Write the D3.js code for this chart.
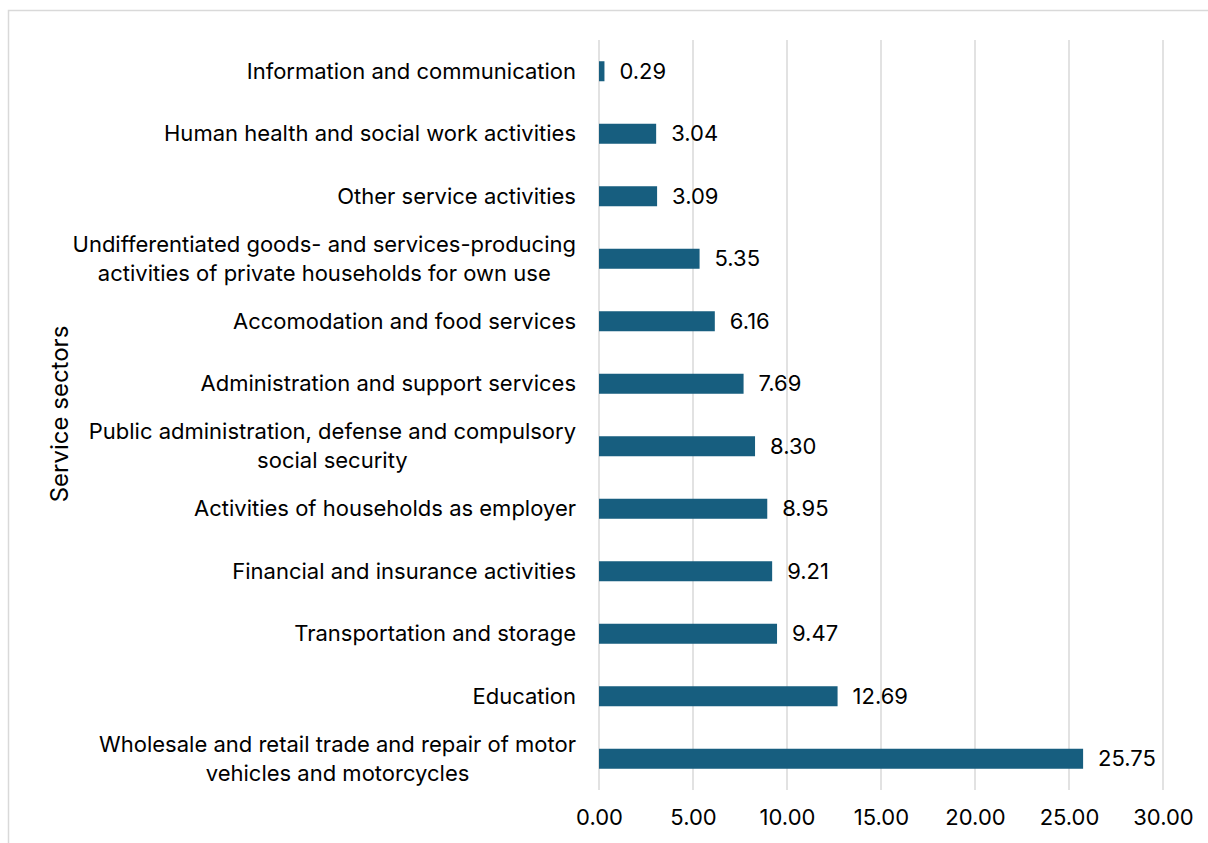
<!DOCTYPE html>
<meta charset="utf-8">
<style>
body { margin: 0; background: #fff; }
text { font-family: Inter, "Open Sans", sans-serif; fill: #000; }
.grid line { stroke: #d9d9d9; stroke-width: 1.5; }
.axis path, .axis line { display: none; }
</style>
<div id="chart"></div>
<script src="https://cdn.jsdelivr.net/npm/d3@7"></script>
<script>

// sectors, top to bottom
var sectors = [
  ["Information and communication"],
  ["Human health and social work activities"],
  ["Other service activities"],
  ["Undifferentiated goods- and services-producing", "activities of private households for own use"],
  ["Accomodation and food services"],
  ["Administration and support services"],
  ["Public administration, defense and compulsory", "social security"],
  ["Activities of households as employer"],
  ["Financial and insurance activities"],
  ["Transportation and storage"],
  ["Education"],
  ["Wholesale and retail trade and repair of motor", "vehicles and motorcycles"]
];
var values = [0.29, 3.04, 3.09, 5.35, 6.16, 7.69, 8.30, 8.95, 9.21, 9.47, 12.69, 25.75];
var xTicks = [0, 5, 10, 15, 20, 25, 30];
var yTitle = "Service sectors";

var W = 1208, H = 843,
    margin = {top: 40, right: 45, bottom: 53, left: 599},
    width = W - margin.left - margin.right,
    height = H - margin.top - margin.bottom,
    fs = "22px";

var svg = d3.select("#chart").append("svg")
    .attr("width", W)
    .attr("height", H);

// outer frame
svg.append("rect")
    .attr("x", 8.5).attr("y", 10.5)
    .attr("width", W + 20).attr("height", H + 20)
    .attr("fill", "none")
    .attr("stroke", "#d9d9d9")
    .attr("stroke-width", 1.5);

var g = svg.append("g").attr("transform", "translate(" + margin.left + "," + margin.top + ")");

var x = d3.scaleLinear().domain([0, 30]).range([0, 564]);
var y = d3.scaleBand()
    .domain(d3.range(values.length))
    .range([0, 750])
    .paddingInner(0.68)
    .paddingOuter(0.34);

g.append("g")
    .attr("class", "grid")
    .selectAll("line")
    .data(xTicks)
    .enter().append("line")
      .attr("x1", function(d) { return x(d); })
      .attr("x2", function(d) { return x(d); })
      .attr("y1", 0)
      .attr("y2", 750);

g.selectAll(".bar")
    .data(values)
    .enter().append("rect")
      .attr("class", "bar")
      .attr("x", x(0))
      .attr("y", function(d, i) { return y(i); })
      .attr("width", function(d) { return x(d) - x(0); })
      .attr("height", y.bandwidth())
      .attr("fill", "#175e7f");

g.selectAll(".val")
    .data(values)
    .enter().append("text")
      .attr("class", "val")
      .attr("x", function(d) { return x(d) + 15; })
      .attr("y", function(d, i) { return y(i) + y.bandwidth() / 2; })
      .attr("dy", "0.35em")
      .style("font-size", fs)
      .text(function(d) { return d.toFixed(2); });

var xAxis = g.append("g")
    .attr("class", "axis")
    .attr("transform", "translate(0,750)")
    .call(d3.axisBottom(x).tickValues(xTicks).tickFormat(d3.format(".2f")).tickSize(0).tickPadding(19));
xAxis.selectAll("text").style("font-size", fs).attr("fill", "#000");

// category labels: block right-aligned, lines centred within the block
var labels = g.selectAll(".lab")
    .data(sectors)
    .enter().append("text")
      .attr("class", "lab")
      .attr("text-anchor", "middle")
      .style("font-size", fs);

labels.selectAll("tspan")
    .data(function(d) { return d; })
    .enter().append("tspan")
      .attr("x", 0)
      .attr("y", function(d, i, nodes) { return (i - (nodes.length - 1) / 2) * 29; })
      .attr("dy", "0.35em")
      .text(function(d) { return d; });

labels.attr("transform", function(d, i) {
  var w = d3.max(d3.select(this).selectAll("tspan").nodes(), function(n) { return n.getComputedTextLength(); });
  return "translate(" + (-23 - w / 2) + "," + (y(i) + y.bandwidth() / 2) + ")";
});

svg.append("text")
    .attr("transform", "translate(68," + (margin.top + 374) + ") rotate(-90)")
    .attr("text-anchor", "middle")
    .style("font-size", "24px")
    .text(yTitle);

</script>
